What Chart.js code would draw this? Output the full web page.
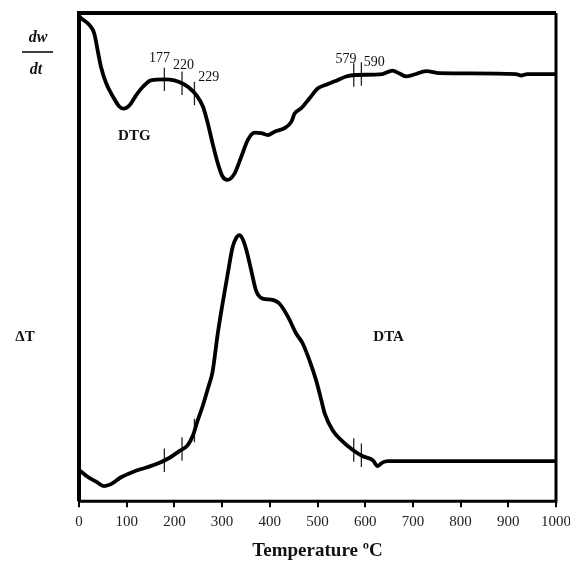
<!DOCTYPE html>
<html>
<head>
<meta charset="utf-8">
<script src="https://cdn.jsdelivr.net/npm/chart.js@4.4.1/dist/chart.umd.min.js"></script>
<style>
  html, body { margin: 0; padding: 0; background: #fff; }
  #wrap { width: 570px; height: 562px; }
</style>
</head>
<body>
<div id="wrap"><canvas id="c" width="570" height="562"></canvas></div>
<script>
// ── data (y in arbitrary units, 0 = bottom, 100 = top) ──
const dtgT = [0, 5, 22, 32, 39, 46, 57, 71, 85, 94, 106, 120, 134, 151, 179, 200, 218, 232, 246, 260,
  270, 280, 291, 301, 311, 326, 340, 354, 368, 382, 396, 410, 431, 445, 452, 466, 483, 501, 515, 536,
  560, 581, 636, 657, 672, 686, 703, 728, 756, 916, 927, 940, 1000];
const dtgY = [99.4, 98.9, 97.5, 95.8, 92.4, 89, 85.6, 82.9, 80.8, 80.4, 81.1, 83.2, 84.9, 86.2, 86.4, 86.2, 85.5, 84.6, 83.2, 80.8,
  77.4, 73.3, 69.2, 66.5, 65.8, 67.1, 70.5, 74, 75.5, 75.4, 75, 75.7, 76.4, 77.7, 79.4, 80.5, 82.5, 84.6, 85.2, 86,
  87, 87.3, 87.5, 88.2, 87.6, 87, 87.4, 88.1, 87.7, 87.5, 87.2, 87.5, 87.5];

const dtaT = [0, 18, 36, 53, 67, 88, 113, 141, 165, 190, 211, 228, 239, 249, 260, 270, 280, 291, 301, 312,
  322, 330, 337, 344, 351, 361, 371, 385, 403, 420, 438, 455, 469, 483, 497, 508, 515, 532, 553, 574,
  595, 616, 626, 636, 647, 1000];
const dtaY = [6.4, 5, 4, 3.1, 3.5, 4.9, 6, 6.9, 7.7, 8.9, 10.3, 11.5, 13.5, 16.6, 19.7, 23, 26.5, 34.4, 40.5, 46.7,
  52, 54, 54.5, 53.5, 51.4, 47.3, 43.2, 41.5, 41.3, 40.5, 37.8, 34.4, 32.3, 28.9, 24.8, 20.7, 18, 14.5, 12.2, 10.5,
  9.2, 8.4, 7.2, 7.9, 8.2, 8.2];

// marker ticks on both curves
const markT    = [179, 216, 242, 576, 592];
const dtgMarkY = [86.4, 85.6, 83.5, 87.3, 87.5];
const dtaMarkY = [8.4, 10.7, 14.5, 10.5, 9.4];
const markHalf = 2.4;

const xTicks = [0, 100, 200, 300, 400, 500, 600, 700, 800, 900, 1000];

// text annotations: [text, x, y] in data units
const peakLabels = [['177', 169, 90.8], ['220', 219, 89.3], ['229', 272, 86.9], ['579', 560, 90.6], ['590', 619, 89.9]];
const curveLabels = [['DTG', 116, 74.8], ['DTA', 649, 33.6]];

const SERIF = '"Liberation Serif", "DejaVu Serif", serif';

const toXY = (xs, ys) => xs.map((x, i) => ({ x, y: ys[i] }));
const markData = ys => markT.flatMap((t, i) => [
  { x: t, y: ys[i] - markHalf }, { x: t, y: ys[i] + markHalf }, { x: t, y: null }
]);

const framePlugin = {
  id: 'frame',
  afterDatasetsDraw(chart) {
    const { ctx, chartArea: a, scales: { x, y } } = chart;
    ctx.save();
    ctx.strokeStyle = '#000';
    ctx.lineWidth = 4;
    ctx.beginPath();
    ctx.moveTo(a.left, a.bottom); ctx.lineTo(a.left, a.top); ctx.lineTo(a.right, a.top);
    ctx.stroke();
    ctx.lineWidth = 3;
    ctx.beginPath();
    ctx.moveTo(a.right, a.top); ctx.lineTo(a.right, a.bottom); ctx.lineTo(a.left, a.bottom);
    ctx.stroke();

    ctx.fillStyle = '#111';
    ctx.textAlign = 'center';
    ctx.textBaseline = 'middle';
    ctx.font = '14px ' + SERIF;
    peakLabels.forEach(([t, vx, vy]) => ctx.fillText(t, x.getPixelForValue(vx), y.getPixelForValue(vy)));
    ctx.font = 'bold 15px ' + SERIF;
    curveLabels.forEach(([t, vx, vy]) => ctx.fillText(t, x.getPixelForValue(vx), y.getPixelForValue(vy)));

    // y-axis captions
    ctx.font = 'bold italic 16px ' + SERIF;
    ctx.fillText('dw', 38, 38);
    ctx.fillText('dt', 36, 70);
    ctx.lineWidth = 1.5;
    ctx.beginPath(); ctx.moveTo(22, 52); ctx.lineTo(53, 52); ctx.stroke();
    ctx.font = 'bold 15px ' + SERIF;
    ctx.fillText('\u0394T', 25, 337);
    ctx.restore();
  }
};

new Chart(document.getElementById('c'), {
  type: 'line',
  data: {
    datasets: [
      { label: 'DTG', data: toXY(dtgT, dtgY), borderColor: '#000', borderWidth: 3.8,
        pointRadius: 0, cubicInterpolationMode: 'monotone' },
      { label: 'DTA', data: toXY(dtaT, dtaY), borderColor: '#000', borderWidth: 3.8,
        pointRadius: 0, cubicInterpolationMode: 'monotone' },
      { label: 'DTG marks', data: markData(dtgMarkY), borderColor: '#222', borderWidth: 1.3,
        pointRadius: 0, spanGaps: false },
      { label: 'DTA marks', data: markData(dtaMarkY), borderColor: '#222', borderWidth: 1.3,
        pointRadius: 0, spanGaps: false },
    ]
  },
  options: {
    responsive: false,
    animation: false,
    layout: { padding: { left: 79, right: 14, top: 13, bottom: 0 } },
    plugins: { legend: { display: false }, tooltip: { enabled: false } },
    scales: {
      x: {
        type: 'linear', min: 0, max: 1000,
        afterBuildTicks: s => { s.ticks = xTicks.map(v => ({ value: v })); },
        afterFit: s => { s.paddingLeft = 0; s.paddingRight = 0; },
        grid: { drawOnChartArea: false, drawTicks: true, tickLength: 6, color: '#000', lineWidth: 2 },
        border: { display: false },
        ticks: { color: '#222', font: { family: SERIF, size: 15 }, padding: 6, maxRotation: 0, autoSkip: false,
          callback: v => String(v) },
        title: { display: true, text: 'Temperature ºC', color: '#111',
          font: { family: SERIF, size: 19, weight: 'bold' }, padding: { top: 2, bottom: 0 } }
      },
      y: { display: false, min: 0, max: 100 }
    }
  },
  plugins: [framePlugin]
});
</script>
</body>
</html>
